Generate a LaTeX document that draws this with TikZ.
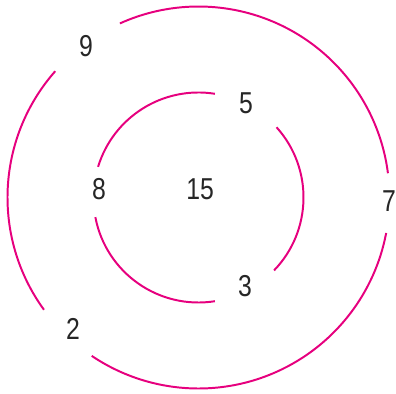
\documentclass[tikz,border=0pt]{standalone}
\usepackage{fontspec}
\setmainfont{Liberation Sans}[FakeStretch=0.82]
\definecolor{ringpink}{RGB}{230,0,126}

\begin{document}
\begin{tikzpicture}[scale=1.0,
    ring/.style={ringpink, line width=1.4pt},
    num/.style={inner sep=0pt, text=black!85, font=\fontsize{21.5}{24}\selectfont}]
    % Frame
    \useasboundingbox (-4.9625,-4.9125) rectangle (4.9375,4.9375);

    % Outer ring (three arcs)
    \foreach \a/\b in {7.3/114.3, 138.6/216, 236/349.3} {
        \draw[ring] (\a:4.775) arc[start angle=\a, end angle=\b, radius=4.775];
    }

    % Inner ring (three arcs)
    \foreach \a/\b in {81/163, 190.8/279, -44/42} {
        \draw[ring] (\a:2.625) arc[start angle=\a, end angle=\b, radius=2.625];
    }

    % Numbers on the outer ring
    \node[num] (n9) at (-2.81,3.79) {9};
    \node[num] (n7) at (4.76,-0.09) {7};
    \node[num] (n2) at (-3.14,-3.29) {2};

    % Numbers on the inner ring
    \node[num] (n5) at (1.19,2.36) {5};
    \node[num] (n8) at (-2.49,0.21) {8};
    \node[num] (n3) at (1.16,-2.21) {3};

    % Sum in the middle
    \node[num] (n15) at (0.04,0.21) {15};
\end{tikzpicture}
\end{document}
